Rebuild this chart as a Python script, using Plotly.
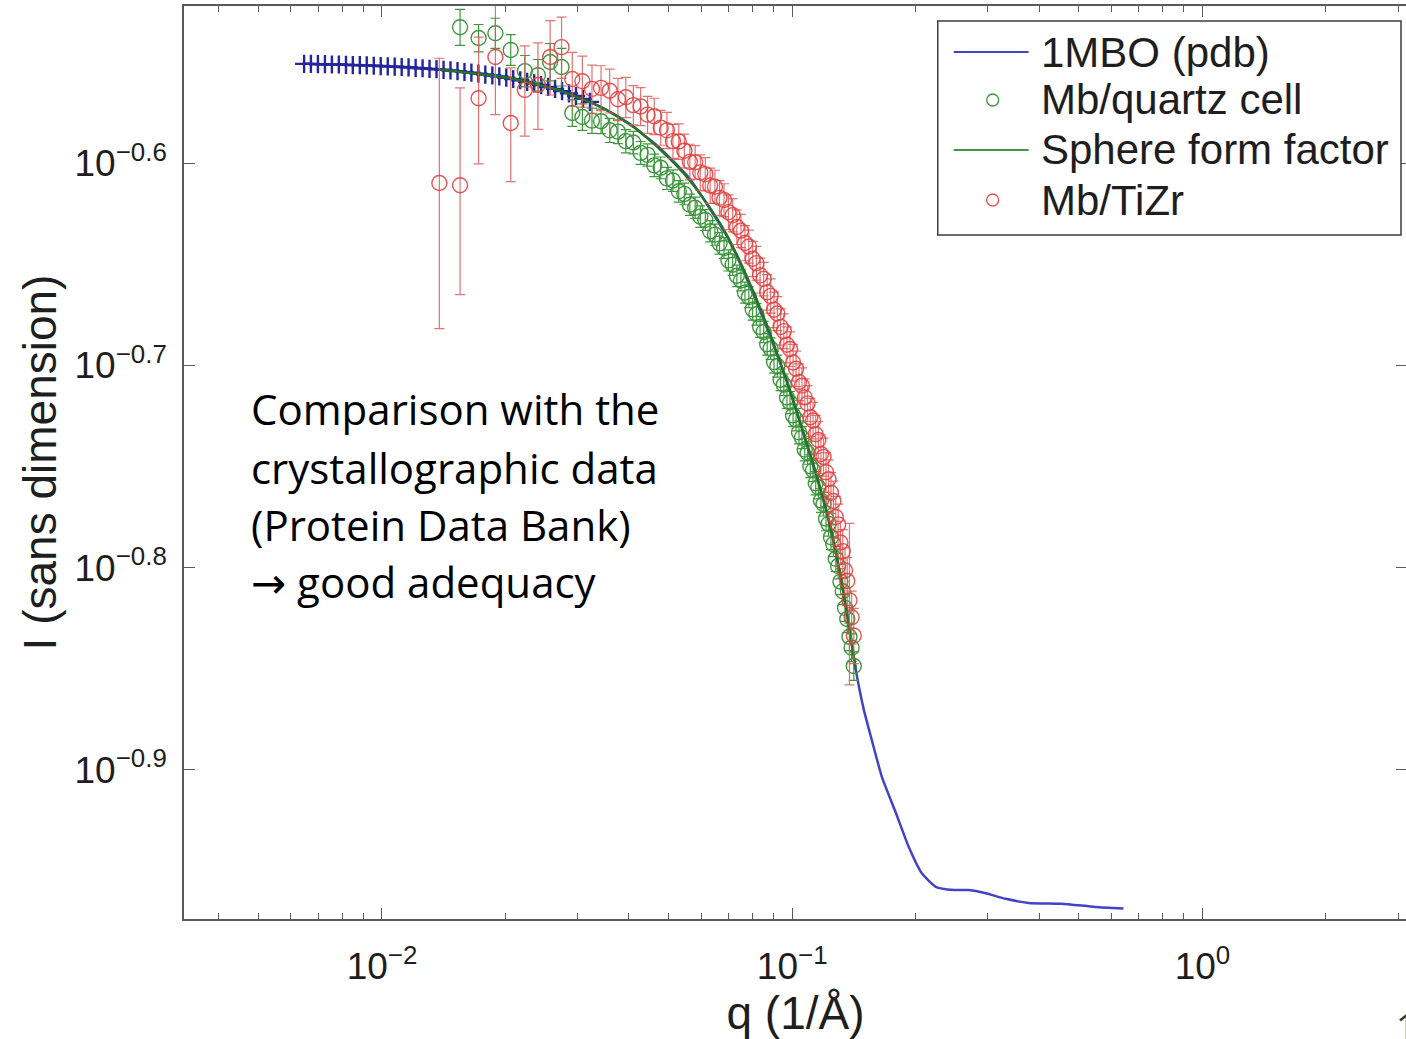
import plotly.graph_objects as go

# ---------------- data ----------------
# 1MBO (pdb) computed curve; the first N_CROSS points are also drawn with '+' markers
q_pdb = [0.00646, 0.00671, 0.00698, 0.00726, 0.00755, 0.00785, 0.00817, 0.00849, 0.00883, 0.00918,
         0.00955, 0.00993, 0.01033, 0.01074, 0.01117, 0.01161, 0.01208, 0.01256, 0.01306, 0.01358,
         0.01413, 0.01469, 0.01528, 0.01589, 0.01652, 0.01718, 0.01786, 0.01858, 0.01932, 0.02009,
         0.02089, 0.02173, 0.02259, 0.02350, 0.02443, 0.02541, 0.02642, 0.02748, 0.02857, 0.02971,
         0.03090, 0.03213, 0.03341, 0.03475, 0.03614, 0.03758, 0.03908, 0.04064, 0.04226, 0.04395,
         0.0474, 0.05607, 0.07015, 0.08299, 0.09654, 0.1086, 0.1215, 0.1314, 0.1375, 0.1429,
         0.1495, 0.1564, 0.1654, 0.1789, 0.1924, 0.2070, 0.2239, 0.2477, 0.2694, 0.2963,
         0.3314, 0.3770, 0.4535, 0.5487, 0.6420]
I_pdb = [0.2813, 0.2813, 0.2812, 0.2812, 0.2811, 0.2811, 0.2810, 0.2809, 0.2809, 0.2808,
         0.2807, 0.2806, 0.2805, 0.2804, 0.2803, 0.2802, 0.2800, 0.2799, 0.2797, 0.2796,
         0.2794, 0.2792, 0.2790, 0.2787, 0.2785, 0.2782, 0.2779, 0.2776, 0.2773, 0.2769,
         0.2765, 0.2761, 0.2756, 0.2751, 0.2746, 0.2740, 0.2734, 0.2727, 0.2720, 0.2712,
         0.2703, 0.2694, 0.2684, 0.2673, 0.2662, 0.2650, 0.2636, 0.2622, 0.2607, 0.2590,
         0.2558, 0.2470, 0.2302, 0.2130, 0.1967, 0.1823, 0.1688, 0.1566, 0.1485, 0.1411,
         0.1348, 0.1302, 0.1249, 0.1199, 0.1153, 0.1119, 0.1102, 0.1098, 0.1098, 0.1094,
         0.1087, 0.1082, 0.1081, 0.1077, 0.1075]
N_CROSS = 42

# experimental q grid (Mb/TiZr uses all, Mb/quartz cell starts at the 2nd value)
q_exp = [0.0138, 0.0155, 0.0172, 0.0189, 0.0206, 0.0223, 0.0240, 0.0257, 0.0274, 0.0291,
         0.0308, 0.0325, 0.0342, 0.0359, 0.0376, 0.0393, 0.0410, 0.0427, 0.0444, 0.0461,
         0.0478, 0.0495, 0.0512, 0.0529, 0.0546, 0.0563, 0.0580, 0.0597, 0.0614, 0.0631,
         0.0648, 0.0665, 0.0682, 0.0699, 0.0716, 0.0733, 0.0750, 0.0767, 0.0784, 0.0801,
         0.0818, 0.0835, 0.0852, 0.0869, 0.0886, 0.0903, 0.0920, 0.0937, 0.0954, 0.0971,
         0.0988, 0.1005, 0.1022, 0.1039, 0.1056, 0.1073, 0.1090, 0.1107, 0.1124, 0.1141,
         0.1158, 0.1175, 0.1192, 0.1209, 0.1226, 0.1243, 0.1260, 0.1277, 0.1294, 0.1311,
         0.1328, 0.1345, 0.1362, 0.1379, 0.1396, 0.1413]

I_tizr = [0.2456, 0.2450, 0.2705, 0.2835, 0.2630, 0.2731, 0.2746, 0.2835, 0.2867, 0.2765,
          0.2758, 0.2734, 0.2737, 0.2728, 0.2702, 0.2708, 0.2684, 0.2680, 0.2655, 0.2650,
          0.2616, 0.2608, 0.2576, 0.2575, 0.2548, 0.2516, 0.2515, 0.2486, 0.2481, 0.2449,
          0.2446, 0.2415, 0.2409, 0.2376, 0.2368, 0.2336, 0.2326, 0.2294, 0.2285, 0.2253,
          0.2242, 0.2211, 0.2202, 0.2169, 0.2160, 0.2126, 0.2117, 0.2085, 0.2075, 0.2043,
          0.2033, 0.2002, 0.1988, 0.1958, 0.1950, 0.1924, 0.1911, 0.1881, 0.1874, 0.1845,
          0.1833, 0.1804, 0.1798, 0.1767, 0.1753, 0.1726, 0.1710, 0.1679, 0.1665, 0.1631,
          0.1615, 0.1580, 0.1561, 0.1527, 0.1498, 0.1467]
err_tizr = [0.0375, 0.0287, 0.0195, 0.0180, 0.0170, 0.0140, 0.0135, 0.0120, 0.0100, 0.0085,
            0.0080, 0.0075, 0.0070, 0.0068, 0.0065, 0.0062, 0.0060, 0.0058, 0.0056, 0.0055,
            0.0052, 0.0054, 0.0050, 0.0052, 0.0049, 0.0051, 0.0048, 0.0050, 0.0047, 0.0049,
            0.0046, 0.0048, 0.0045, 0.0047, 0.0045, 0.0046, 0.0044, 0.0046, 0.0043, 0.0045,
            0.0043, 0.0044, 0.0042, 0.0044, 0.0042, 0.0043, 0.0041, 0.0043, 0.0041, 0.0042,
            0.0040, 0.0042, 0.0040, 0.0041, 0.0040, 0.0041, 0.0039, 0.0041, 0.0039, 0.0040,
            0.0039, 0.0040, 0.0039, 0.0040, 0.0039, 0.0040, 0.0039, 0.0040, 0.0039, 0.0040,
            0.0040, 0.0041, 0.0042, 0.0140, 0.0045, 0.0046]

I_quartz = [0.2933, 0.2897, 0.2913, 0.2858, 0.2790, 0.2777, 0.2819, 0.2803, 0.2660,
            0.2648, 0.2637, 0.2635, 0.2608, 0.2604, 0.2576, 0.2572, 0.2542, 0.2536, 0.2506,
            0.2499, 0.2469, 0.2463, 0.2433, 0.2426, 0.2396, 0.2388, 0.2364, 0.2355, 0.2325,
            0.2316, 0.2293, 0.2281, 0.2249, 0.2238, 0.2210, 0.2198, 0.2168, 0.2157, 0.2127,
            0.2115, 0.2085, 0.2073, 0.2044, 0.2034, 0.2003, 0.1994, 0.1963, 0.1952, 0.1924,
            0.1913, 0.1885, 0.1876, 0.1849, 0.1838, 0.1813, 0.1806, 0.1779, 0.1771, 0.1745,
            0.1737, 0.1711, 0.1704, 0.1676, 0.1666, 0.1641, 0.1628, 0.1601, 0.1588, 0.1560,
            0.1543, 0.1514, 0.1495, 0.1465, 0.1447, 0.1417]
err_quartz = [0.0060, 0.0045, 0.0050, 0.0050, 0.0050, 0.0050, 0.0060, 0.0060, 0.0040,
              0.0040, 0.0038, 0.0037, 0.0036, 0.0035, 0.0034, 0.0033, 0.0033, 0.0032, 0.0032,
              0.0031, 0.0031, 0.0030, 0.0030, 0.0030, 0.0029, 0.0029, 0.0029, 0.0028, 0.0028,
              0.0028, 0.0028, 0.0027, 0.0027, 0.0027, 0.0027, 0.0026, 0.0026, 0.0026, 0.0026,
              0.0026, 0.0025, 0.0025, 0.0025, 0.0025, 0.0025, 0.0025, 0.0024, 0.0024, 0.0024,
              0.0024, 0.0024, 0.0024, 0.0024, 0.0023, 0.0023, 0.0023, 0.0023, 0.0023, 0.0023,
              0.0023, 0.0023, 0.0023, 0.0023, 0.0023, 0.0023, 0.0023, 0.0023, 0.0023, 0.0023,
              0.0023, 0.0023, 0.0023, 0.0023, 0.0023, 0.0023]

# Sphere form factor fit
q_sphere = [0.0138, 0.0206, 0.0274, 0.0342, 0.0410, 0.0478, 0.0546, 0.0614, 0.0682, 0.0750,
            0.0818, 0.0886, 0.0954, 0.1022, 0.1090, 0.1158, 0.1226, 0.1294, 0.1362, 0.1429]
I_sphere = [0.2795, 0.2767, 0.2727, 0.2678, 0.2619, 0.2550, 0.2481, 0.2406, 0.2328, 0.2241,
            0.2152, 0.2065, 0.1978, 0.1897, 0.1822, 0.1749, 0.1674, 0.1593, 0.1501, 0.1411]

legend_names = ["1MBO (pdb)", "Mb/quartz cell", "Sphere form factor", "Mb/TiZr"]

x_major = [0.01, 0.1, 1]
x_major_text = ["10<sup>−2</sup>", "10<sup>−1</sup>", "10<sup>0</sup>"]
x_minor = [0.004, 0.005, 0.006, 0.007, 0.008, 0.009,
           0.02, 0.03, 0.04, 0.05, 0.06, 0.07, 0.08, 0.09,
           0.2, 0.3, 0.4, 0.5, 0.6, 0.7, 0.8, 0.9, 2, 3]
y_tick_exp = [-0.9, -0.8, -0.7, -0.6]
y_tick_text = ["10<sup>−0.9</sup>", "10<sup>−0.8</sup>", "10<sup>−0.7</sup>", "10<sup>−0.6</sup>"]

note_lines = ["Comparison with the", "crystallographic data", "(Protein Data Bank)",
              "<span style='font-family:DejaVu Sans'>→</span> good adequacy"]

# ---------------- style / layout ----------------
# the figure is a little wider than the 1406 px window: the right frame line falls just
# outside the visible area, as in the cropped original
W, H = 1409, 1039
ML, MR, MT, MB = 184, 0, 6, 120
PW, PH = W - ML - MR, H - MT - MB

def px(x):  # page pixel x -> paper
    return (x - ML) / PW

def py(y):  # page pixel y -> paper
    return (H - MB - y) / PH

BLUE = "#4343c6"
BLUE_DARK = "#25259e"
GREEN = "#3f963f"
GREEN_LINE = "#267326"
RED = "rgba(226,64,64,0.9)"
RED_ERR = "rgba(220,90,90,0.85)"
AXIS = "#5a5a5a"
TXT = "#1e1e1e"
AX_FONT = "Liberation Sans, Arial, sans-serif"

fig = go.Figure()

fig.add_trace(go.Scatter(x=q_pdb, y=I_pdb, mode="lines", name=legend_names[0],
                         line=dict(color=BLUE, width=2.5, shape="spline", smoothing=0.5),
                         showlegend=False))
fig.add_trace(go.Scatter(x=q_pdb[:N_CROSS], y=I_pdb[:N_CROSS], mode="markers",
                         marker=dict(symbol="cross-thin", size=13, line=dict(color=BLUE_DARK, width=2.4)),
                         showlegend=False, hoverinfo="skip"))
fig.add_trace(go.Scatter(x=q_exp[1:], y=I_quartz, mode="markers", name=legend_names[1],
                         marker=dict(symbol="circle-open", size=15, color=GREEN, line=dict(width=1.4, color=GREEN)),
                         error_y=dict(type="data", array=err_quartz, color=GREEN, thickness=1.2, width=5),
                         showlegend=False))
fig.add_trace(go.Scatter(x=q_sphere, y=I_sphere, mode="lines", name=legend_names[2],
                         line=dict(color=GREEN_LINE, width=2.5, shape="spline", smoothing=0.5),
                         showlegend=False))
fig.add_trace(go.Scatter(x=q_exp, y=I_tizr, mode="markers", name=legend_names[3],
                         marker=dict(symbol="circle-open", size=15, color=RED, line=dict(width=1.4, color=RED)),
                         error_y=dict(type="data", array=err_tizr, color=RED_ERR, thickness=1.2, width=5),
                         showlegend=False))

# ---- manual legend (MATLAB style box) ----
shapes = []
annotations = []
shapes.append(dict(type="rect", xref="paper", yref="paper", x0=px(939), x1=px(1403), y0=py(235), y1=py(21),
                   line=dict(color="#3c3c3c", width=1.5), fillcolor="white", layer="above"))
row_y = [52, 100, 150, 200]
shapes.append(dict(type="line", xref="paper", yref="paper", x0=px(955), x1=px(1030), y0=py(row_y[0]), y1=py(row_y[0]),
                   line=dict(color=BLUE, width=2.2), layer="above"))
shapes.append(dict(type="line", xref="paper", yref="paper", x0=px(955), x1=px(1030), y0=py(row_y[2]), y1=py(row_y[2]),
                   line=dict(color=GREEN, width=2.2), layer="above"))
for ry, col in [(row_y[1], GREEN), (row_y[3], RED)]:
    shapes.append(dict(type="circle", xref="paper", yref="paper", xsizemode="pixel", ysizemode="pixel",
                       xanchor=px(994), yanchor=py(ry), x0=-6, x1=6, y0=-6, y1=6,
                       line=dict(color=col, width=1.3), layer="above"))
for name, ry in zip(legend_names, row_y):
    annotations.append(dict(text=name, xref="paper", yref="paper", x=px(1040), y=py(ry),
                            xanchor="left", yanchor="middle", showarrow=False,
                            font=dict(family=AX_FONT, size=42, color=TXT)))

# ---- note text ----
note_y = [409, 467, 524, 581]
for line, ny in zip(note_lines, note_y):
    annotations.append(dict(text=line, xref="paper", yref="paper", x=px(249), y=py(ny),
                            xanchor="left", yanchor="middle", showarrow=False,
                            font=dict(family="Open Sans, sans-serif", size=42, color="black")))

# slide number fragment at the bottom-right corner
annotations.append(dict(text="1", xref="paper", yref="paper", x=px(1396), y=py(1026),
                        xanchor="left", yanchor="middle", showarrow=False,
                        font=dict(family="Open Sans, sans-serif", size=36, color="#333")))

fig.update_layout(
    width=W, height=H,
    margin=dict(l=ML, r=MR, t=MT, b=MB, pad=0),
    paper_bgcolor="white", plot_bgcolor="white",
    showlegend=False,
    shapes=shapes, annotations=annotations,
    xaxis=dict(type="log", range=[-2.4826, -2.4826 + PW / 410.9],
               tickmode="array", tickvals=x_major, ticktext=x_major_text,
               ticks="inside", ticklen=11, tickwidth=1.3, tickcolor=AXIS,
               minor=dict(tickmode="array", tickvals=x_minor, ticks="inside", ticklen=6,
                          tickwidth=1.1, tickcolor=AXIS, showgrid=False),
               showline=True, linecolor=AXIS, linewidth=1.6, mirror="allticks",
               showgrid=False, zeroline=False,
               tickfont=dict(family=AX_FONT, size=37, color=TXT),
               ticklabelstandoff=14,
               title=dict(text="q (1/Å)", font=dict(family=AX_FONT, size=46, color=TXT), standoff=0)),
    yaxis=dict(type="log", range=[-0.97374, -0.52221],
               tickmode="array", tickvals=[10 ** e for e in y_tick_exp], ticktext=y_tick_text,
               ticks="inside", ticklen=11, tickwidth=1.3, tickcolor=AXIS,
               showline=True, linecolor=AXIS, linewidth=1.6, mirror="allticks",
               showgrid=False, zeroline=False,
               tickfont=dict(family=AX_FONT, size=37, color=TXT),
               ticklabelstandoff=8,
               title=dict(text="I (sans dimension)", font=dict(family=AX_FONT, size=46, color=TXT), standoff=3)),
)

# remove the default 8px page margin so the figure fills the window exactly
fig.write_html("out.html", config={"displayModeBar": False},
               post_script="document.body.style.margin='0';document.body.style.overflow='hidden';")
